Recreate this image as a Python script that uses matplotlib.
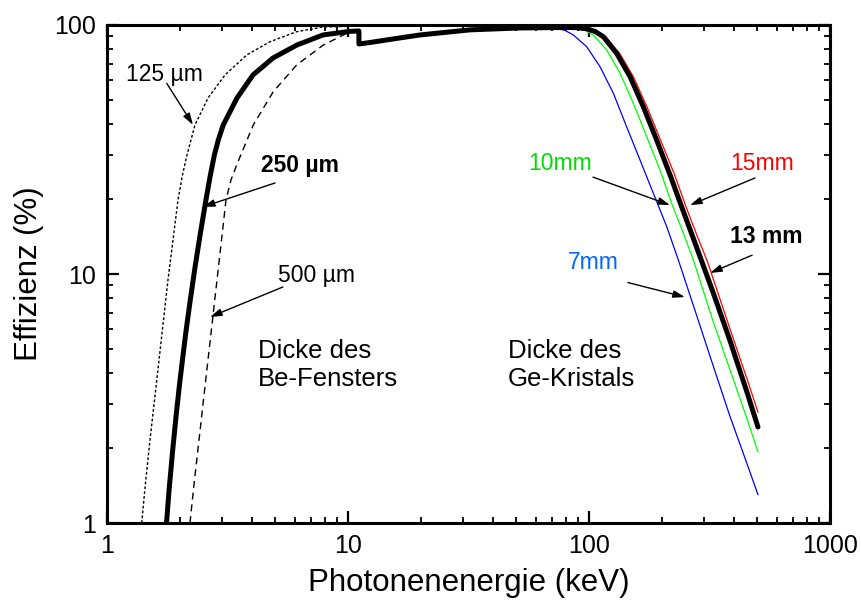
import matplotlib
matplotlib.use("Agg")
import matplotlib.pyplot as plt
from matplotlib import ticker

plt.rcParams['font.family'] = ['Liberation Sans', 'DejaVu Sans']

# Be-Fenster 250 um + Ge-Kristall 13 mm (dicke schwarze Kurve)
e_black = [1.766, 1.810, 1.874, 1.937, 2.003, 2.069, 2.123, 2.216, 2.320, 2.434, 2.573,
           2.686, 2.790, 2.896, 3.038, 3.463, 4.035, 4.886, 6.14, 7.88, 10.2, 11.1,
           11.1, 11.98, 16.4, 19.9, 32.1, 51.7, 70, 80, 88, 97.8, 106, 114.7, 130.3, 148.0,
           168.0, 190.9, 216.9, 242.4, 270.9, 298.1, 327, 384.6, 452.5, 502.4]
y_black = [1.0, 1.357, 1.965, 2.715, 3.65, 4.73, 5.80, 7.86, 10.67, 14.34, 19.8,
           24.98, 30.06, 34.5, 39.7, 50.9, 63.0, 73.7, 83.1, 91.2, 94.3, 94.6,
           83.9, 84.7, 88.7, 91.2, 95.6, 97.3, 97.6, 97.7, 97.6, 96.6, 94.2, 89.7, 76.9, 62.0,
           47.0, 34.5, 25.0, 18.6, 13.9, 10.8, 8.45, 5.40, 3.35, 2.43]

# Be-Fenster 125 um (gepunktet)
e_125 = [1.393, 1.449, 1.508, 1.575, 1.644, 1.716, 1.791, 1.879, 1.971, 2.057, 2.148,
         2.318, 2.625, 3.088, 3.80, 4.75, 6.125, 7.88, 11.1]
y_125 = [1.0, 1.488, 2.154, 3.119, 4.515, 6.535, 9.46, 13.69, 19.8, 24.98, 30.06,
         39.7, 50.9, 63.0, 75.8, 85.7, 94.0, 98.2, 99.0]

# Be-Fenster 500 um (gestrichelt)
e_500 = [2.21, 2.307, 2.409, 2.514, 2.625, 2.741, 2.86, 2.987, 3.117, 3.27, 3.452,
         4.047, 4.898, 6.125, 7.90, 9.88, 10.8]
y_500 = [1.0, 1.488, 2.154, 3.119, 4.515, 6.535, 9.46, 13.69, 19.8, 23.85, 27.4,
         39.7, 53.96, 69.1, 83.1, 92.6, 94.2]

# Ge-Kristall 15 mm (rot)
e_15 = [60, 85, 99.1, 108, 117.6, 134.5, 153.0, 174.0, 198.0, 225.3, 252.6, 282.0,
        310.2, 384.6, 452.5, 502.4]
y_15 = [97.6, 97.6, 97.0, 94.2, 89.5, 76.5, 61.8, 46.9, 34.5, 25.4, 18.6, 14.1,
        11.2, 6.01, 3.79, 2.79]

# Ge-Kristall 10 mm (gruen)
e_10 = [55, 78, 88.9, 96.2, 104.2, 118.4, 134.5, 152.7, 173.5, 197.0, 220.3, 246.2,
        270.9, 327, 384.6, 452.5, 502.4]
y_10 = [97.6, 97.6, 97.0, 95.1, 91.2, 79.4, 64.0, 48.5, 35.6, 26.2, 19.2, 14.6,
        11.4, 6.47, 4.12, 2.62, 1.93]

# Ge-Kristall 7 mm (blau)
e_7 = [50, 65, 73.5, 79.5, 86.1, 97.8, 111.1, 126.2, 143.3, 162.8, 184.9, 210.1,
       234.7, 288.8, 327, 384.6, 452.5, 502.4]
y_7 = [97.6, 97.6, 97.0, 95.1, 91.2, 81.8, 68.0, 53.2, 39.0, 28.7, 21.1, 15.5,
       11.4, 6.2, 4.3, 2.68, 1.73, 1.30]

fig, ax = plt.subplots(figsize=(8.62, 6.05), dpi=100)
fig.subplots_adjust(left=0.1241, right=0.9629, top=0.9587, bottom=0.1355)

ax.plot(e_7, y_7, color='#0000ff', lw=0.9)
ax.plot(e_10, y_10, color='#00ff00', lw=0.9)
ax.plot(e_15, y_15, color='#ff0000', lw=0.9)
ax.plot(e_125, y_125, color='black', lw=1.0, linestyle=(0, (2, 1.5)))
ax.plot(e_500, y_500, color='black', lw=1.0, linestyle=(0, (5, 3.5)))
ax.plot(e_black, y_black, color='black', lw=3.6, solid_joinstyle='round',
        solid_capstyle='round')

ax.set_xscale('log')
ax.set_yscale('log')
ax.set_xlim(1, 1000)
ax.set_ylim(1, 100)

fmt = ticker.FuncFormatter(lambda v, _: f'{v:g}')
ax.xaxis.set_major_formatter(fmt)
ax.yaxis.set_major_formatter(fmt)
ax.xaxis.set_minor_formatter(ticker.NullFormatter())
ax.yaxis.set_minor_formatter(ticker.NullFormatter())

ax.tick_params(which='both', direction='in', top=True, right=True)
ax.tick_params(which='major', length=8.5, width=1.6, labelsize=18, pad=8)
ax.tick_params(which='minor', length=4.5, width=1.3)
for s in ax.spines.values():
    s.set_linewidth(2.2)

ax.set_xlabel('Photonenenergie (keV)', fontsize=22.5, labelpad=7)
ax.set_ylabel('Effizienz (%)', fontsize=22.5, labelpad=7)

arr = dict(arrowstyle='-|>,head_length=0.7,head_width=0.22', lw=1.0, color='black',
           shrinkA=0, shrinkB=0)

ax.annotate('', xy=(2.275, 39.7), xytext=(1.77, 58.3), arrowprops=arr)
ax.text(1.724, 63.0, '125 µm', fontsize=16.5, ha='center', va='center')

ax.annotate('', xy=(2.50, 18.6), xytext=(4.98, 23.2), arrowprops=arr)
ax.text(6.32, 27.2, '250 µm', fontsize=16.5, fontweight='bold', ha='center', va='center')

ax.annotate('', xy=(2.676, 6.72), xytext=(5.37, 8.87), arrowprops=arr)
ax.text(7.37, 9.82, '500 µm', fontsize=16.5, ha='center', va='center')

ax.text(4.23, 4.31, 'Dicke des\nBe-Fensters', fontsize=18.5, ha='left', va='center',
        linespacing=1.25)
ax.text(46.1, 4.31, 'Dicke des\nGe-Kristals', fontsize=18.5, ha='left', va='center',
        linespacing=1.25)

ax.annotate('', xy=(216.8, 18.9), xytext=(103.9, 24.5), arrowprops=arr)
ax.text(75.8, 27.7, '10mm', fontsize=16.5, color='#00dd00', ha='center', va='center')

ax.annotate('', xy=(262.6, 18.9), xytext=(488, 24.3), arrowprops=arr)
ax.text(522, 27.9, '15mm', fontsize=16.5, color='#ff0000', ha='center', va='center')

ax.annotate('', xy=(318, 10.1), xytext=(475, 11.9), arrowprops=arr)
ax.text(542, 14.1, '13 mm', fontsize=16.5, fontweight='bold', ha='center', va='center')

ax.annotate('', xy=(250, 8.08), xytext=(145, 9.24), arrowprops=arr)
ax.text(103.9, 11.1, '7mm', fontsize=16.5, color='#0066ff', ha='center', va='center')

plt.savefig('out.png', dpi=100)
